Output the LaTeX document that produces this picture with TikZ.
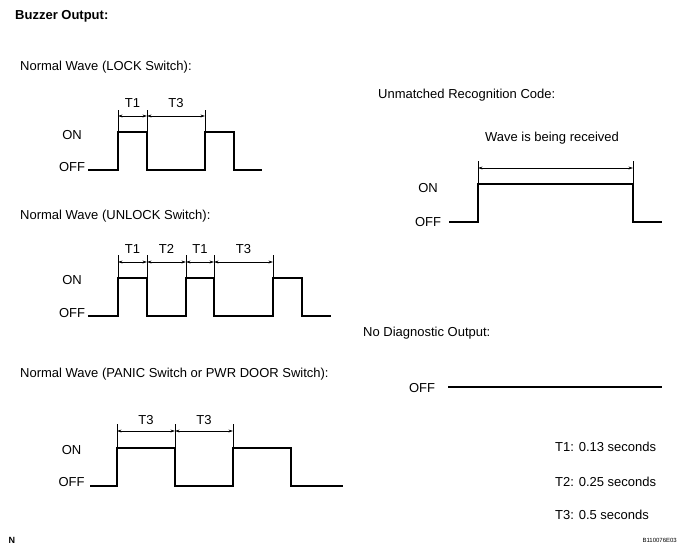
\documentclass[tikz,border=0pt]{standalone}
\usepackage{fontspec}
\setmainfont{Liberation Sans}
\usetikzlibrary{arrows.meta}
\begin{document}
\begin{tikzpicture}[x=1pt,y=-1pt,
  wave/.style={line width=1.8pt, line join=miter},
  ext/.style={line width=0.6pt},
  dimarrow/.style={line width=0.6pt,{Stealth[length=4.5pt,width=2.8pt]}-{Stealth[length=4.5pt,width=2.8pt]}},
  txt/.style={font=\fontsize{13}{15}\selectfont, inner sep=0pt},
  lvl/.style={txt, anchor=base},
  tl/.style={txt, anchor=base},
]
\useasboundingbox (0,0) rectangle (693,552);

% Title
\node[txt, font=\fontsize{13}{15}\selectfont\bfseries, anchor=base west] (title) at (15,19.7) {Buzzer Output:};

% ---------- LOCK ----------
\node[txt, anchor=base west] (tlock) at (20,70.5) {Normal Wave (LOCK Switch):};
\node[lvl] (onA) at (72,139) {ON};
\node[lvl] (offA) at (72,171) {OFF};
\draw[wave] (88,170) -- (118,170) -- (118,132) -- (147,132) -- (147,170)
  -- (205,170) -- (205,132) -- (234,132) -- (234,170) -- (262,170);
\foreach \x in {118,147,205} \draw[ext] (\x,132) -- (\x,110);
\coordinate (A1) at (118,116);
\coordinate (A2) at (147,116);
\coordinate (A3) at (205,116);
\draw[dimarrow] (A1) -- (A2);
\draw[dimarrow] (A2) -- (A3);
\node[tl] (ta1) at (132.5,107) {T1};
\node[tl] (ta3) at (176,107) {T3};

% ---------- UNLOCK ----------
\node[txt, anchor=base west] (tunlock) at (20,219.3) {Normal Wave (UNLOCK Switch):};
\node[lvl] (onB) at (72,284.5) {ON};
\node[lvl] (offB) at (72,317) {OFF};
\draw[wave] (88,316) -- (118,316) -- (118,278) -- (147,278) -- (147,316)
  -- (186,316) -- (186,278) -- (214,278) -- (214,316)
  -- (273,316) -- (273,278) -- (302,278) -- (302,316) -- (331,316);
\foreach \x in {118,147,186,214,273} \draw[ext] (\x,278) -- (\x,255);
\coordinate (B1) at (118,262);
\coordinate (B2) at (147,262);
\coordinate (B3) at (186,262);
\coordinate (B4) at (214,262);
\coordinate (B5) at (273,262);
\draw[dimarrow] (B1) -- (B2);
\draw[dimarrow] (B2) -- (B3);
\draw[dimarrow] (B3) -- (B4);
\draw[dimarrow] (B4) -- (B5);
\node[tl] (tb1) at (132.5,253) {T1};
\node[tl] (tb2) at (166.5,253) {T2};
\node[tl] (tb3) at (200,253) {T1};
\node[tl] (tb4) at (243.5,253) {T3};

% ---------- PANIC ----------
\node[txt, anchor=base west] (tpanic) at (20,377.7) {Normal Wave (PANIC Switch or PWR DOOR Switch):};
\node[lvl] (onC) at (71.5,454.5) {ON};
\node[lvl] (offC) at (71.5,486.5) {OFF};
\draw[wave] (90,486) -- (117,486) -- (117,448) -- (175,448) -- (175,486)
  -- (233,486) -- (233,448) -- (291,448) -- (291,486) -- (343,486);
\foreach \x in {117,175,233} \draw[ext] (\x,448) -- (\x,424);
\coordinate (C1) at (117,431);
\coordinate (C2) at (175,431);
\coordinate (C3) at (233,431);
\draw[dimarrow] (C1) -- (C2);
\draw[dimarrow] (C2) -- (C3);
\node[tl] (tc1) at (146,424.5) {T3};
\node[tl] (tc2) at (204,424.5) {T3};

% ---------- Unmatched ----------
\node[txt, anchor=base west] (tunm) at (378,98.3) {Unmatched Recognition Code:};
\node[tl] (trecv) at (552,141.7) {Wave is being received};
\node[lvl] (onD) at (428,192.5) {ON};
\node[lvl] (offD) at (428,226) {OFF};
\draw[wave] (449,222) -- (478,222) -- (478,184) -- (633,184) -- (633,222) -- (662,222);
\foreach \x in {478,633} \draw[ext] (\x,184) -- (\x,161);
\coordinate (D1) at (478,168);
\coordinate (D2) at (633,168);
\draw[dimarrow] (D1) -- (D2);

% ---------- No Diagnostic ----------
\node[txt, anchor=base west] (tnod) at (363,336) {No Diagnostic Output:};
\node[lvl] (offE) at (422,392.5) {OFF};
\coordinate (E1) at (448,387);
\coordinate (E2) at (662,387);
\draw[wave] (E1) -- (E2);

% ---------- Legend ----------
\node[txt, anchor=base west] (lg1) at (555,451) {T1: 0.13 seconds};
\node[txt, anchor=base west] (lg2) at (555,486) {T2: 0.25 seconds};
\node[txt, anchor=base west] (lg3) at (555,519.3) {T3: 0.5 seconds};

% ---------- Footer ----------
\node[inner sep=0pt, anchor=base west, font=\fontsize{9}{10}\selectfont\bfseries] (nlab) at (8.5,543) {N};
\node[inner sep=0pt, anchor=base east, font=\fontsize{6}{7}\selectfont] (code) at (677,542.3) {B110076E03};
\end{tikzpicture}
\end{document}
